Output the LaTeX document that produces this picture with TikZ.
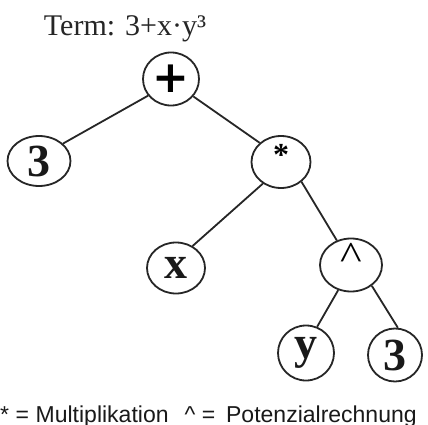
\documentclass[tikz,border=0pt]{standalone}
\usepackage{fontspec}
\usepackage{graphicx}
\usetikzlibrary{shapes.geometric}
\newfontfamily\tserif{Liberation Serif}
\newfontfamily\tsans{Liberation Sans}
\newfontfamily\tdeja{DejaVu Sans}
\begin{document}
\begin{tikzpicture}[x=1pt,y=-1pt,
  op/.style={ellipse, draw=black!85, line width=1.8pt, inner sep=0pt},
  lbl/.style={font=\tserif\bfseries\fontsize{46}{50}\selectfont, text=black!90},
  edge/.style={draw=black!85, line width=1.8pt}]
\useasboundingbox (0,0) rectangle (428,425);
\fill[white] (0,0) rectangle (428,425);
% title
\node[font=\tserif\fontsize{30}{36}\selectfont, anchor=base, text=black!85, inner sep=0pt] (title) at (125,36) {Term: 3+x·y³};
% nodes
\node[op, minimum width=56pt, minimum height=53pt, font=\tdeja\bfseries\fontsize{44}{48}\selectfont] (plus) at (171,79) {+};
\node[op, lbl, minimum width=63pt, minimum height=50pt] (three1) at (39,161) {3};
\node[op, minimum width=59pt, minimum height=52pt,
  label={[font=\tserif\bfseries\fontsize{32}{34}\selectfont, yshift=7pt, inner sep=0pt]center:*}] (star) at (281,162) {};
\node[op, lbl, minimum width=58pt, minimum height=51pt] (x) at (176,268) {x};
\node[op, minimum width=62pt, minimum height=53pt,
  label={[font=\tserif\fontsize{40}{42}\selectfont, yshift=9pt, inner sep=0pt]center:\scalebox{1.15}[1]{\textasciicircum}}] (caret) at (351,265) {};
\node[op, lbl, minimum width=56pt, minimum height=55pt] (y) at (306,353) {y};
\node[op, lbl, minimum width=54pt, minimum height=53pt] (three2) at (395,355) {3};
% edges
\draw[edge] (plus.216) -- (three1.36);
\draw[edge] (plus.322) -- (star.138);
\draw[edge] (star.230) -- (x.53);
\draw[edge] (star.316) -- (caret.120);
\draw[edge] (caret.243) -- (y.67);
\draw[edge] (caret.315) -- (three2.84);
% legend
\node[font=\tsans\fontsize{23}{27}\selectfont, anchor=base west, inner sep=0pt, text=black!90] (legend) at (0,422.5) {\makebox[35.5pt][l]{* =}\makebox[149pt][l]{Multiplikation}\makebox[41.5pt][l]{\textasciicircum\ =}Potenzialrechnung};
\end{tikzpicture}
\end{document}
